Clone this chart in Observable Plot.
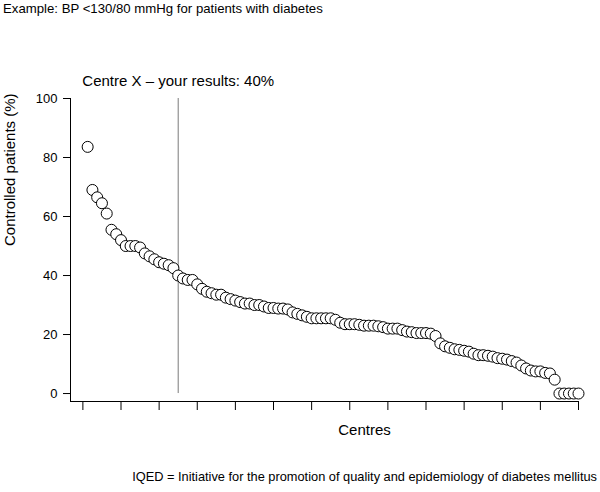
<!DOCTYPE html>
<html><head><meta charset="utf-8">
<script src="https://cdn.jsdelivr.net/npm/d3@7"></script>
<script src="https://cdn.jsdelivr.net/npm/@observablehq/plot@0.6"></script>
<style>
body{margin:0;background:#fff;font-family:"Liberation Sans",Arial,sans-serif;}
#wrap{position:relative;width:600px;height:492px;}
.t{position:absolute;white-space:nowrap;color:#000;line-height:1;}
#wrap svg{position:absolute;left:0;top:0;}
</style></head><body>
<div id="wrap"></div>
<script>
// Controlled patients (%) per centre, sorted descending
const controlled = [
  83.6, 69, 66.5, 64.5, 61, 55.5, 54, 52, 50, 50,
  50, 49.5, 47.5, 46.5, 45.5, 44.5, 44, 43.5, 42.5, 40,
  39, 38.5, 38.5, 37, 35.5, 34.5, 34, 33.5, 33.5, 32.5,
  32, 31.5, 31, 30.5, 30.5, 30, 30, 29.5, 29, 29,
  28.8, 28.8, 28.5, 27.5, 27, 26.5, 26, 25.5, 25.5, 25.5,
  25.5, 25.5, 25, 24, 23.5, 23.5, 23.5, 23.3, 23, 23,
  23, 22.8, 22.5, 22, 22, 22, 21.5, 21, 20.8, 20.5,
  20.5, 20.5, 20.3, 19.5, 17, 16, 15.5, 15, 14.8, 14.5,
  14.2, 13.5, 13, 13, 12.8, 12.5, 12, 11.8, 11.5, 11,
  10.5, 9.5, 8.5, 7.8, 7.5, 7.5, 7, 6.8, 4.7, 0,
  0, 0, 0, 0
];
const centreRank = controlled.map((_, i) => i + 1);
const centreX = 20;          // rank of "Centre X"
const centreXValue = 40;     // its result (%)
const yTicks = [0, 20, 40, 60, 80, 100];
const xTicks = [0, 8, 16, 24, 32, 40, 48, 56, 64, 72, 80, 88, 96, 104];
const xDomain = [-2.6, 104];
const yDomain = [-2.7, 100];

const titleText = "Example: BP <130/80 mmHg for patients with diabetes";
const centreLabel = "Centre X \u2013 your results: " + centreXValue + "%";
const yLabel = "Controlled patients (%)";
const xLabel = "Centres";
const captionText = "IQED = Initiative for the promotion of quality and epidemiology of diabetes mellitus";

const data = centreRank.map((r, i) => ({rank: r, value: controlled[i]}));

const chart = Plot.plot({
  width: 600,
  height: 492,
  marginLeft: 70,
  marginRight: 22,
  marginTop: 98,
  marginBottom: 91,
  style: {fontFamily: "'Liberation Sans', Arial, sans-serif", fontSize: "13px", background: "transparent", color: "#000"},
  x: {domain: xDomain, axis: null},
  y: {domain: yDomain, axis: null},
  marks: [
    Plot.axisY({ticks: yTicks, tickSize: 7, tickPadding: 6, label: null, fontSize: 13}),
    Plot.axisX({ticks: xTicks, tickSize: 9, tickFormat: () => "", label: null}),
    Plot.ruleX([xDomain[0]], {y1: yDomain[0], y2: yDomain[1], stroke: "#000"}),
    Plot.ruleY([yDomain[0]], {x1: xDomain[0], x2: xDomain[1], stroke: "#000"}),
    Plot.ruleX([centreX], {y1: 0, y2: 100, stroke: "#7a7a7a", strokeWidth: 1}),
    Plot.dot(data, {x: "rank", y: "value", r: 5.5, stroke: "#000", fill: "#fff", strokeWidth: 1}),
    Plot.text([centreLabel], {x: centreX, y: 100, dy: -17, fontSize: 15, fill: "#000"}),
    Plot.text([yLabel], {frameAnchor: "left", dx: -60, dy: -4, rotate: -90, fontSize: 15, fill: "#000"}),
    Plot.text([xLabel], {frameAnchor: "bottom", dx: 40, dy: 33, fontSize: 15, fill: "#000"})
  ]
});

const wrap = document.getElementById("wrap");
wrap.appendChild(chart);
const title = document.createElement("div");
title.className = "t";
title.style.cssText = "left:3px;top:2px;font-size:13.2px;";
title.textContent = titleText;
wrap.appendChild(title);
const cap = document.createElement("div");
cap.className = "t";
cap.style.cssText = "right:3px;top:471px;font-size:12.8px;";
cap.textContent = captionText;
wrap.appendChild(cap);
</script>
</body></html>
